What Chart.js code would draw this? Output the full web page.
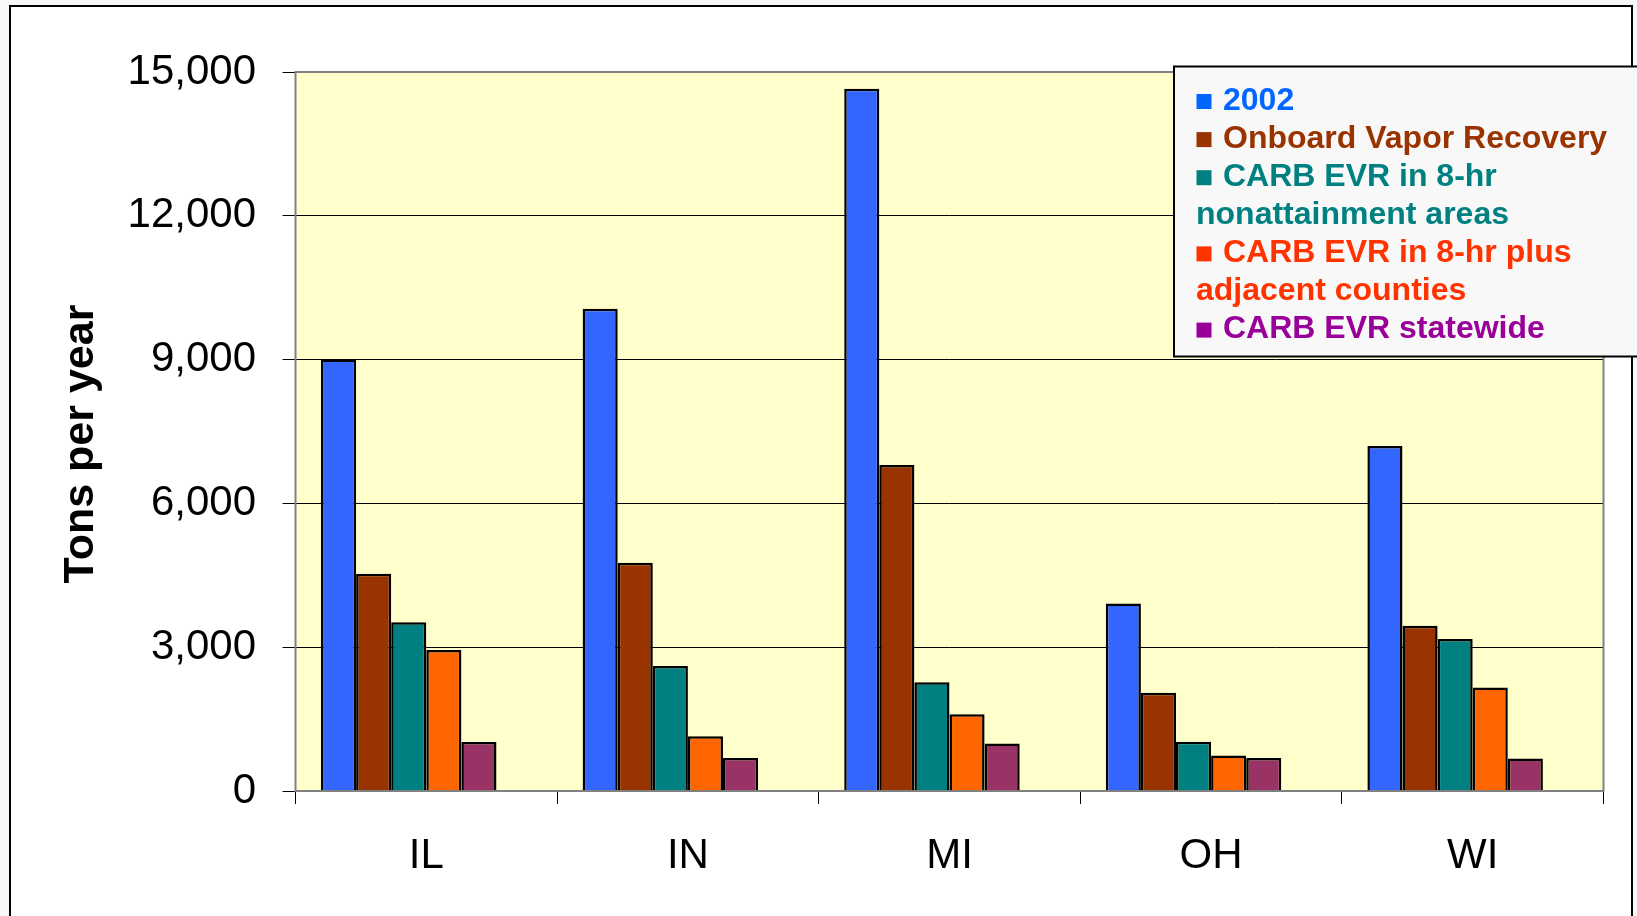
<!DOCTYPE html>
<html>
<head>
<meta charset="utf-8">
<script src="https://cdn.jsdelivr.net/npm/chart.js@4.4.1/dist/chart.umd.min.js"></script>
<style>
  html, body { margin: 0; padding: 0; background: #f7f7f7; }
  canvas { display: block; }
</style>
</head>
<body>
<canvas id="chart" width="1637" height="916"></canvas>
<script>
// Categories (states) and the five emission scenarios, tons per year
const states = ['IL', 'IN', 'MI', 'OH', 'WI'];
const seriesNames = [
  '2002',
  'Onboard Vapor Recovery',
  'CARB EVR in 8-hr nonattainment areas',
  'CARB EVR in 8-hr plus adjacent counties',
  'CARB EVR statewide'
];
const base2002     = [9000, 10060, 14650, 3910, 7200];
const onboardVR    = [4530, 4760, 6800, 2050, 3450];
const evrNonattain = [3520, 2610, 2270, 1030, 3170];
const evrAdjacent  = [2940, 1140, 1600, 740, 2160];
const evrStatewide = [1020, 690, 990, 690, 680];
const yTicks = [0, 3000, 6000, 9000, 12000, 15000];
const yTitle = 'Tons per year';

const barColors    = ['#3366ff', '#993300', '#008080', '#ff6600', '#993366'];
const legendColors = ['#0066ff', '#993300', '#008080', '#ff3300', '#990099'];

const FONT = '"Liberation Sans", Arial, Helvetica, sans-serif';
Chart.defaults.font.family = FONT;

const seriesValues = [base2002, onboardVR, evrNonattain, evrAdjacent, evrStatewide];
const datasets = seriesValues.map((vals, i) => ({
  label: seriesNames[i],
  data: vals,
  backgroundColor: barColors[i],
  borderColor: '#000000'
}));
// empty sixth slot keeps each group of bars left of its category centre
datasets.push({ label: '', data: states.map(() => null), backgroundColor: 'rgba(0,0,0,0)' });

// page frame and plot-area fill
const backdrop = {
  id: 'backdrop',
  beforeDraw(chart) {
    const { ctx, width, height, chartArea: a } = chart;
    ctx.save();
    ctx.fillStyle = '#f7f7f7';
    ctx.fillRect(0, 0, width, height);
    ctx.fillStyle = '#ffffff';
    ctx.fillRect(10, 6, 1622, 930);
    ctx.strokeStyle = '#000000';
    ctx.lineWidth = 2;
    ctx.strokeRect(10, 6, 1622, 930);
    ctx.fillStyle = '#ffffcc';
    ctx.fillRect(a.left, a.top, a.right - a.left, a.bottom - a.top);
    ctx.restore();
  }
};

// grey border round the plot area, drawn over the bar bases
const plotBorder = {
  id: 'plotBorder',
  afterDatasetsDraw(chart) {
    const { ctx, chartArea: a } = chart;
    ctx.save();
    ctx.strokeStyle = '#808080';
    ctx.lineWidth = 2;
    ctx.strokeRect(a.left, a.top, a.right - a.left, a.bottom - a.top);
    ctx.restore();
  }
};

// rotated axis title and the boxed legend with wrapped entries
const annotations = {
  id: 'annotations',
  afterDraw(chart) {
    const { ctx } = chart;
    ctx.save();
    ctx.translate(93, 444);
    ctx.rotate(-Math.PI / 2);
    ctx.font = 'bold 43px ' + FONT;
    ctx.fillStyle = '#000000';
    ctx.textAlign = 'center';
    ctx.textBaseline = 'alphabetic';
    ctx.fillText(yTitle, 0, 0);
    ctx.restore();

    ctx.save();
    const bx = 1174, by = 66.5, bw = 500, bh = 290;
    ctx.fillStyle = '#f8f8f8';
    ctx.fillRect(bx, by, bw, bh);
    ctx.strokeStyle = '#000000';
    ctx.lineWidth = 2;
    ctx.strokeRect(bx, by, bw, bh);

    ctx.font = 'bold 32px ' + FONT;
    ctx.textAlign = 'left';
    ctx.textBaseline = 'alphabetic';
    const markX = 1196.5, textX = 1223, wrapX = 1196, maxRight = 1625, lh = 38.1;
    let base = 109.5;
    seriesNames.forEach((name, i) => {
      ctx.fillStyle = legendColors[i];
      ctx.fillRect(markX, base - 15.5, 15, 15);
      const words = name.split(' ');
      let x0 = textX, line = '';
      words.forEach(w => {
        const test = line ? line + ' ' + w : w;
        if (line && x0 + ctx.measureText(test).width > maxRight) {
          ctx.fillText(line, x0, base);
          base += lh;
          x0 = wrapX;
          line = w;
        } else {
          line = test;
        }
      });
      ctx.fillText(line, x0, base);
      base += lh;
    });
    ctx.restore();
  }
};

new Chart(document.getElementById('chart'), {
  type: 'bar',
  data: { labels: states, datasets },
  options: {
    responsive: false,
    animation: false,
    layout: { padding: { top: 72, right: 33.5, left: 0, bottom: 0 } },
    datasets: {
      bar: {
        categoryPercentage: 0.805,
        barPercentage: 1.0,
        borderWidth: 2.5,
        borderSkipped: 'start'
      }
    },
    plugins: {
      legend: { display: false },
      tooltip: { enabled: false }
    },
    scales: {
      x: {
        grid: {
          display: true,
          drawOnChartArea: false,
          drawTicks: true,
          tickLength: 13,
          color: '#000000',
          offset: true
        },
        border: { display: false },
        ticks: { font: { size: 42 }, color: '#000000', padding: 27, maxRotation: 0 },
        afterFit(scale) { scale.height = 125; }
      },
      y: {
        min: 0,
        max: 15000,
        afterBuildTicks(scale) { scale.ticks = yTicks.map(v => ({ value: v })); },
        ticks: {
          font: { size: 42 },
          color: '#000000',
          padding: 26.5,
          callback: v => Number(v).toLocaleString('en-US')
        },
        grid: { color: '#000000', lineWidth: 1, tickLength: 13 },
        border: { display: false },
        afterFit(scale) { scale.width = 295.5; }
      }
    }
  },
  plugins: [backdrop, plotBorder, annotations]
});
</script>
</body>
</html>
